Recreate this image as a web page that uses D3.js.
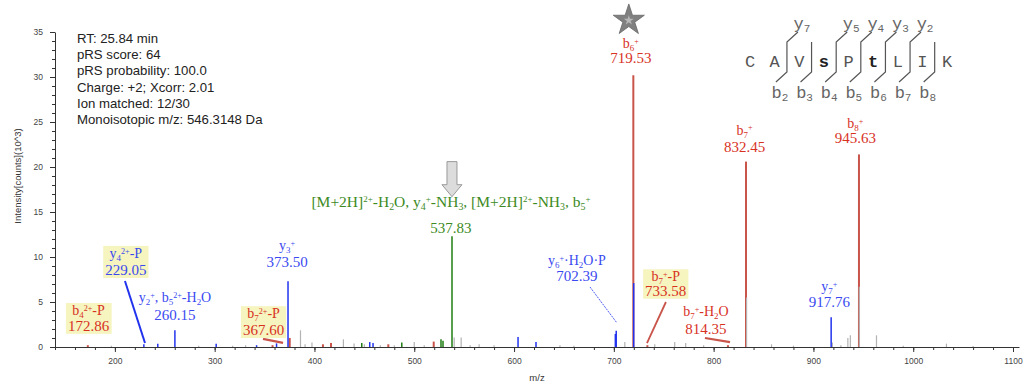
<!DOCTYPE html>
<html>
<head>
<meta charset="utf-8">
<script src="https://cdn.jsdelivr.net/npm/d3@7"></script>
<style>
  body { margin: 0; background: #fff; }
  svg { display: block; }
</style>
</head>
<body>
<div id="viz"></div>
<script>
const COLORS = {
  red: "#c8544a",
  redText: "#d8321f",
  blue: "#2233ee",
  blueText: "#3a4af0",
  green: "#1f7d14",
  greenText: "#3d8a24",
  gray: "#b3b3b3",
  box: "#f6f4bf",
  axis: "#333"
};

// spectrum info block
const infoLines = [
  "RT: 25.84 min",
  "pRS score: 64",
  "pRS probability: 100.0",
  "Charge: +2; Xcorr: 2.01",
  "Ion matched: 12/30",
  "Monoisotopic m/z: 546.3148 Da"
];

// peptide sequence (lowercase = phospho site)
const residues = ["C", "A", "V", "s", "P", "t", "L", "I", "K"];
const bIons = [2, 3, 4, 5, 6, 7, 8];
const yIons = [7, 5, 4, 3, 2];

// peaks: [m/z, intensity (10^3 counts)]
const grayPeaks = [
  [196.5, 0.15], [284, 0.15], [318, 0.15], [331, 0.2], [386, 1.85], [390.6, 0.3],
  [397.5, 0.5], [429, 0.85], [439.7, 0.4], [450, 0.3], [466, 0.2], [480, 0.2],
  [500, 0.55], [510, 0.2], [540, 1.05], [547, 1.05], [556, 0.2], [565, 0.3],
  [580, 0.2], [646, 0.2], [660, 0.15], [711, 0.55], [741, 0.3], [761, 0.55],
  [772, 0.45], [790, 0.2], [833, 5.5], [858, 0.3], [880, 0.15], [919, 0.5],
  [927.5, 0.2], [934.5, 1.0], [937, 1.3], [946, 6.7], [963.2, 1.3], [990, 0.15],
  [1033.3, 0.37], [1060, 0.1]
];
const redPeaks = [
  [172.9, 0.2], [358, 0.2], [375.2, 1.0], [408.5, 0.3], [416.6, 0.45], [474, 0.3],
  [519.5, 0.6], [719.53, 30.2], [733.6, 0.2], [814.35, 0.2], [832.45, 20.6], [945.63, 21.4]
];
const bluePeaks = [
  [229.05, 0.3], [243, 0.37], [260.15, 1.85], [301.5, 0.35], [342, 0.2], [362, 0.4],
  [373.5, 7.3], [455.4, 0.55], [458.7, 0.45], [604, 1.1], [622, 0.55], [701.5, 1.45],
  [702.39, 1.8], [719.9, 7.1], [917.76, 3.3]
];
const greenPeaks = [
  [447.4, 0.45], [487.5, 0.5], [526.8, 0.85], [528.8, 0.7], [537.83, 12.3]
];

// peak annotations: label centre m/z, baseline intensities of the two lines
const labels = [
  { mz: 717, at: [33.2, 31.6], color: "red", text: ["b_{6}^{+}", "719.53"] },
  { mz: 831, at: [23.6, 21.7], color: "red", text: ["b_{7}^{+}", "832.45"] },
  { mz: 942, at: [24.3, 22.7], color: "red", text: ["b_{8}^{+}", "945.63"] },
  { mz: 372.5, at: [10.8, 8.9], color: "blue", text: ["y_{3}^{+}", "373.50"] },
  { mz: 916, at: [6.2, 4.4], color: "blue", text: ["y_{7}^{+}", "917.76"] },
  { mz: 663, at: [9.1, 7.3], color: "blue", text: ["y_{6}^{+}·H_{2}O·P", "702.39"] },
  { mz: 260.2, at: [5.0, 3.0], color: "blue", text: ["y_{2}^{+}, b_{5}^{2+}-H_{2}O", "260.15"] },
  { mz: 211, at: [9.9, 8.0], color: "blue", text: ["y_{4}^{2+}-P", "229.05"], box: true },
  { mz: 173.6, at: [3.55, 1.8], color: "red", text: ["b_{4}^{2+}-P", "172.86"], box: true },
  { mz: 349, at: [3.2, 1.33], color: "red", text: ["b_{7}^{2+}-P", "367.60"], box: true },
  { mz: 752, at: [7.3, 5.7], color: "red", text: ["b_{7}^{+}-P", "733.58"], box: true },
  { mz: 792.3, at: [3.4, 1.45], color: "red", text: ["b_{7}^{+}-H_{2}O", "814.35"] },
  { mz: 536.8, at: [15.6, 12.7], color: "green",
    text: ["[M+2H]^{2+}-H_{2}O, y_{4}^{+}-NH_{3}, [M+2H]^{2+}-NH_{3}, b_{5}^{+}", "537.83"] }
];

// leader lines from labels to peaks: [m/z, intensity]
const connectors = [
  { from: [210.1, 7.33], to: [230.2, 0.44], color: "blue", w: 2 },
  { from: [676.1, 6.67], to: [703.1, 2.67], color: "blue", w: 0.8, dash: "2,1" },
  { from: [752.2, 5.0], to: [733.2, 0.44], color: "red", w: 1.8 },
  { from: [348.4, 0.9], to: [368.5, 0.45], color: "red", w: 2.2 },
  { from: [791.3, 1.0], to: [816.4, 0.55], color: "red", w: 2.2 }
];

const starMark = { mz: 715, intensity: 36.3 };
const arrowMark = { mz: 537.8, from: 20.6, to: 16.7 };

const yTicks = d3.range(0, 36, 5);
const xTicks = d3.range(200, 1101, 100);

const width = 1026, height = 386;
const svg = d3.select("#viz").append("svg")
  .attr("width", width)
  .attr("height", height);

const x = d3.scaleLinear().domain([140, 1106]).range([55, 1019]);
const y = d3.scaleLinear().domain([0, 35]).range([347, 32]);

const textColor = c => c === "red" ? COLORS.redText : c === "blue" ? COLORS.blueText : COLORS.greenText;
const lineColor = c => c === "red" ? COLORS.red : c === "blue" ? COLORS.blue : COLORS.green;

// axes
const xAxis = svg.append("g").attr("transform", `translate(0,${y(0)})`);
xAxis.call(d3.axisBottom(x).tickValues(d3.range(140, 1101, 20)).tickSize(3).tickFormat(""));
xAxis.call(g => g.select(".domain").remove());
svg.append("g").attr("transform", `translate(0,${y(0)})`)
  .call(d3.axisBottom(x).tickValues(xTicks).tickSize(5).tickPadding(6).tickSizeOuter(0)
    .tickFormat(d3.format("d")));

const yAxis = svg.append("g").attr("transform", `translate(${x(140)},0)`);
yAxis.call(d3.axisLeft(y).tickValues(d3.range(0, 36, 1)).tickSize(3).tickFormat(""));
yAxis.call(g => g.select(".domain").remove());
svg.append("g").attr("transform", `translate(${x(140)},0)`)
  .call(d3.axisLeft(y).tickValues(yTicks).tickSize(5).tickPadding(7).tickSizeOuter(0));

svg.selectAll(".domain, .tick line").attr("stroke", COLORS.axis);
svg.selectAll(".tick text")
  .attr("font-family", "Liberation Sans, Arial, sans-serif")
  .attr("font-size", 8.5)
  .attr("fill", "#444");

svg.append("text")
  .attr("x", (x(140) + x(1106)) / 2)
  .attr("y", 381)
  .attr("text-anchor", "middle")
  .attr("font-family", "Liberation Sans, Arial, sans-serif")
  .attr("font-size", 9.5)
  .attr("fill", "#333")
  .text("m/z");

svg.append("text")
  .attr("transform", `translate(21,${y(19)}) rotate(-90)`)
  .attr("text-anchor", "middle")
  .attr("font-family", "Liberation Sans, Arial, sans-serif")
  .attr("font-size", 9.5)
  .attr("fill", "#333")
  .text("Intensity[counts](10^3)");

// peaks
function drawPeaks(data, color, w) {
  svg.append("g").selectAll("line")
    .data(data)
    .join("line")
    .attr("x1", d => x(d[0])).attr("x2", d => x(d[0]))
    .attr("y1", y(0)).attr("y2", d => y(d[1]))
    .attr("stroke", color)
    .attr("stroke-width", w);
}
drawPeaks(redPeaks, COLORS.red, 2);
drawPeaks(grayPeaks, COLORS.gray, 1.2);
drawPeaks(bluePeaks, COLORS.blue, 1.5);
drawPeaks(greenPeaks, COLORS.green, 1.5);

// leader lines
svg.append("g").selectAll("line")
  .data(connectors)
  .join("line")
  .attr("x1", d => x(d.from[0])).attr("y1", d => y(d.from[1]))
  .attr("x2", d => x(d.to[0])).attr("y2", d => y(d.to[1]))
  .attr("stroke", d => lineColor(d.color))
  .attr("stroke-width", d => d.w)
  .attr("stroke-dasharray", d => d.dash || null);

// rich text: _{sub} and ^{sup}
function rich(sel, str, size) {
  const parts = str.split(/([_^]\{[^}]*\})/).filter(s => s);
  let shift = 0;
  parts.forEach(p => {
    let target = 0, txt = p, fs = size;
    if (p.startsWith("_{")) { target = size * 0.22; txt = p.slice(2, -1); fs = size * 0.64; }
    else if (p.startsWith("^{")) { target = -size * 0.3; txt = p.slice(2, -1); fs = size * 0.58; }
    sel.append("tspan").attr("dy", target - shift).attr("font-size", fs).text(txt);
    shift = target;
  });
}

labels.forEach(l => {
  const g = svg.append("g");
  l.text.forEach((t, i) => {
    const fs = i === 0 ? (l.color === "green" ? 15.5 : 14) : 15;
    const el = g.append("text")
      .attr("x", x(l.mz))
      .attr("y", y(l.at[i]))
      .attr("text-anchor", "middle")
      .attr("font-family", "Liberation Serif, Times New Roman, serif")
      .attr("font-size", fs)
      .attr("fill", textColor(l.color));
    rich(el, t, fs);
  });
  if (l.box) {
    const bb = g.node().getBBox();
    g.insert("rect", ":first-child")
      .attr("x", bb.x - 2).attr("y", bb.y)
      .attr("width", bb.width + 4).attr("height", bb.height)
      .attr("fill", COLORS.box);
  }
});

// star above the b6 peak
const star = d3.symbol().type(d3.symbolStar);
svg.append("path")
  .attr("d", star.size(300)())
  .attr("transform", `translate(${x(starMark.mz)},${y(starMark.intensity)})`)
  .attr("fill", "#808080")
  .attr("stroke", "#666")
  .attr("stroke-width", 0.8);
svg.append("path")
  .attr("d", star.size(30)())
  .attr("transform", `translate(${x(starMark.mz)},${y(starMark.intensity)})`)
  .attr("fill", "#b8b8b8");

// down arrow above the precursor cluster
{
  const ax = x(arrowMark.mz), top = y(arrowMark.from), tip = y(arrowMark.to);
  const neck = tip - 12;
  svg.append("path")
    .attr("d", `M${ax - 5},${top}H${ax + 5}V${neck}H${ax + 10}L${ax},${tip}L${ax - 10},${neck}H${ax - 5}Z`)
    .attr("fill", "#dcdcdc")
    .attr("stroke", "#9a9a9a")
    .attr("stroke-width", 1);
}

// info block
svg.append("g").selectAll("text")
  .data(infoLines)
  .join("text")
  .attr("x", 77)
  .attr("y", (d, i) => 43 + i * 16.2)
  .attr("font-family", "Liberation Sans, Arial, sans-serif")
  .attr("font-size", 13.2)
  .attr("fill", "#222")
  .text(d => d);

// fragment map
const seqX = d3.scaleLinear().domain([0, residues.length - 1]).range([750, 947]);
const seq = svg.append("g").attr("font-family", "Liberation Mono, Courier New, monospace");
seq.selectAll("text.res")
  .data(residues)
  .join("text")
  .attr("class", "res")
  .attr("x", (d, i) => seqX(i))
  .attr("y", 67)
  .attr("text-anchor", "middle")
  .attr("font-size", 17)
  .attr("font-weight", d => d === d.toLowerCase() ? "bold" : "normal")
  .attr("fill", d => d === d.toLowerCase() ? "#222" : "#555")
  .text(d => d);

const n = residues.length;
const breaks = Array.from(new Set([...bIons, ...yIons.map(k => n - k)])).sort((a, b) => a - b);
breaks.forEach(k => {
  const bx = seqX(k - 0.5);
  let p = `M${bx},42V72`;
  if (yIons.includes(n - k)) p = `M${bx + 11},32L${bx},42V72`;
  if (bIons.includes(k)) p += `L${bx - 11},82`;
  seq.append("path").attr("d", p).attr("fill", "none").attr("stroke", "#555").attr("stroke-width", 1.2);
});
function ionLabel(letter, k, cx, cy) {
  const t = seq.append("text").attr("x", cx).attr("y", cy).attr("text-anchor", "middle").attr("fill", "#666");
  t.append("tspan").attr("font-size", 17).text(letter);
  t.append("tspan").attr("font-size", 11).attr("dy", 3).text(k);
}
yIons.forEach(k => ionLabel("y", k, seqX(n - k - 0.5) + 15, 29));
bIons.forEach(k => ionLabel("b", k, seqX(k - 0.5) - 7, 98));
</script>
</body>
</html>
